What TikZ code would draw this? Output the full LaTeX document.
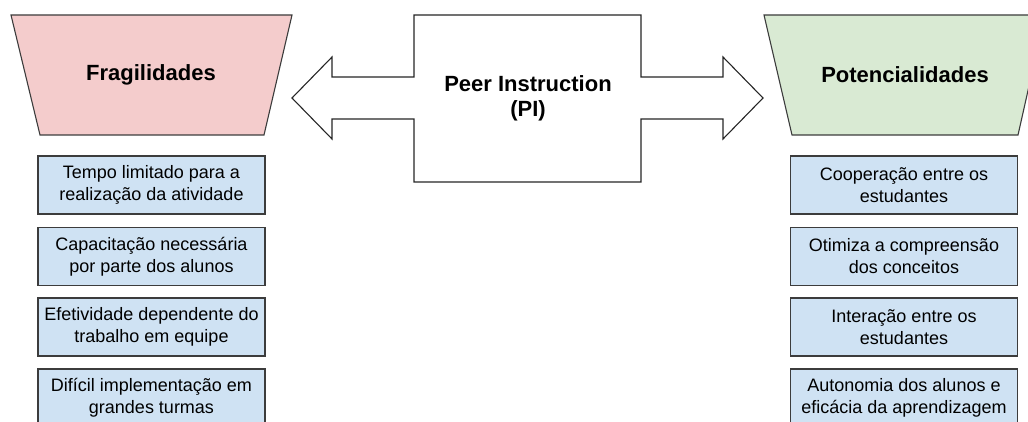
\documentclass[tikz,border=0pt]{standalone}
\usepackage{fontspec}
\setmainfont{Liberation Sans}
\definecolor{pinkf}{HTML}{F4CCCC}
\definecolor{greenf}{HTML}{D9EAD3}
\definecolor{bluef}{HTML}{CFE2F3}
\definecolor{edgec}{HTML}{3C3C3C}
\begin{document}
\begin{tikzpicture}[x=1pt,y=-1pt,line join=miter,
  itembox/.style={draw=edgec,fill=bluef,line width=1.1pt,minimum width=227pt,minimum height=58pt,inner sep=0pt,align=center,font=\fontsize{18}{22}\selectfont},
  titletext/.style={font=\fontsize{22}{25}\selectfont\bfseries,align=center},
  trapshape/.style={draw=edgec,line width=1.1pt}]
\useasboundingbox (0,0) rectangle (1028,422);
% left trapezoid
\draw[trapshape,fill=pinkf] (11,15) -- (292,15) -- (264,135) -- (40,135) -- cycle;
\node[titletext] (frag) at (151,75) {Fragilidades};
% right trapezoid
\draw[trapshape,fill=greenf] (764,15) -- (1045,15) -- (1018,135) -- (792,135) -- cycle;
\node[titletext] (pot) at (905,75) {Potencialidades};
% center double arrow
\draw[draw=black!85,line width=1.1pt,fill=white]
  (414,15) -- (641,15) -- (641,77) -- (723,77) -- (723,57) -- (763,98)
  -- (723,139) -- (723,119) -- (641,119) -- (641,182) -- (414,182)
  -- (414,119) -- (332,119) -- (332,139) -- (292,98) -- (332,57)
  -- (332,77) -- (414,77) -- cycle;
\node[titletext] (pi) at (528,98) {Peer Instruction\\(PI)};
% left boxes
\node[itembox] (l1) at (151.5,185) {Tempo limitado para a\\realização da atividade};
\node[itembox] (l2) at (151.5,256.5) {Capacitação necessária\\por parte dos alunos};
\node[itembox] (l3) at (151.5,327) {Efetividade dependente do\\trabalho em equipe};
\node[itembox] (l4) at (151.5,398) {Difícil implementação em\\grandes turmas};
% right boxes
\node[itembox] (r1) at (904,185) {Cooperação entre os\\estudantes};
\node[itembox] (r2) at (904,256.5) {Otimiza a compreensão\\dos conceitos};
\node[itembox] (r3) at (904,327) {Interação entre os\\estudantes};
\node[itembox] (r4) at (904,398) {Autonomia dos alunos e\\eficácia da aprendizagem};
\end{tikzpicture}
\end{document}
